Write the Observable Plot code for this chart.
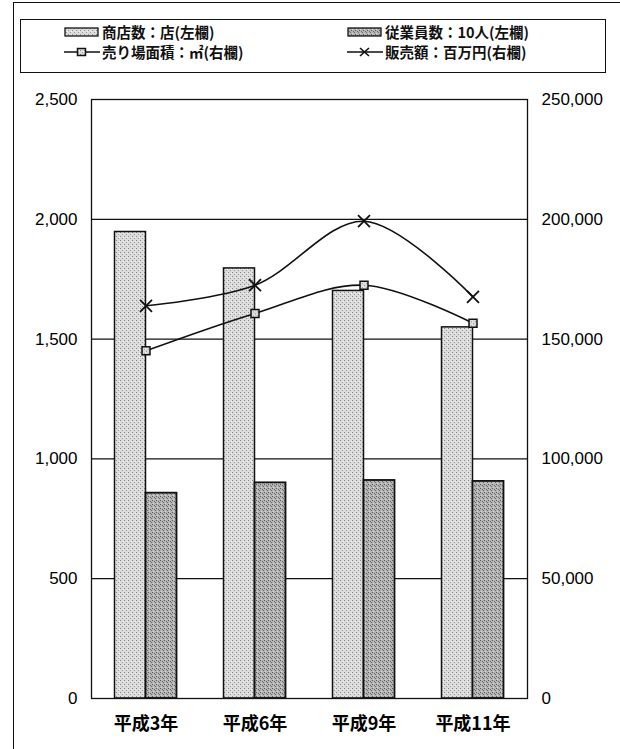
<!DOCTYPE html>
<html>
<head>
<meta charset="utf-8">
<script src="https://cdn.jsdelivr.net/npm/d3@7"></script>
<script src="https://cdn.jsdelivr.net/npm/@observablehq/plot@0.6"></script>
<style>
  html, body { margin: 0; padding: 0; background: #fff; }
  #wrap { position: relative; width: 620px; height: 749px; overflow: hidden; font-family: "Noto Sans CJK JP", sans-serif; }
  #outer { position: absolute; left: 13px; top: 2px; width: 640px; height: 760px; border-left: 1.5px solid #111; border-top: 1.5px solid #111; box-sizing: border-box; }
  #legend { position: absolute; left: 20px; top: 19px; width: 586px; height: 54px; border: 1.3px solid #111; box-sizing: border-box; }
  .item { position: absolute; display: flex; align-items: center; font-size: 14.5px; font-weight: bold; color: #111; white-space: nowrap; }
  #chart { position: absolute; left: 0; top: 80px; }
</style>
</head>
<body>
<svg width="0" height="0" style="position:absolute">
  <defs>
    <pattern id="pLight" width="4" height="4" patternUnits="userSpaceOnUse">
      <rect width="4" height="4" fill="#dcdcdc"/>
      <rect x="0" y="0" width="1" height="1" fill="#8a8a8a"/>
      <rect x="2" y="2" width="1" height="1" fill="#9a9a9a"/>
      <rect x="3" y="1" width="1" height="1" fill="#f4f4f4"/>
    </pattern>
    <pattern id="pDark" width="4" height="4" patternUnits="userSpaceOnUse">
      <rect width="4" height="4" fill="#b4b4b4"/>
      <rect x="0" y="0" width="1" height="1" fill="#5a5a5a"/>
      <rect x="2" y="1" width="1" height="1" fill="#6a6a6a"/>
      <rect x="1" y="3" width="1" height="1" fill="#d6d6d6"/>
      <rect x="3" y="2" width="1" height="1" fill="#707070"/>
    </pattern>
  </defs>
</svg>
<div id="wrap">
  <div id="outer"></div>
  <div id="legend"></div>
  <div id="chart"></div>
</div>
<script>
// ---- data ----
const years = ["平成3年", "平成6年", "平成9年", "平成11年"];
const shops = [1947, 1795, 1701, 1549];             // 商店数:店(左欄)
const employees = [857, 900, 910, 906];             // 従業員数:10人(左欄)
const floorArea = [145100, 160700, 172500, 156600]; // 売り場面積:㎡(右欄)
const sales = [163900, 172500, 199200, 167600];     // 販売額:百万円(右欄)
const leftTicks = [0, 500, 1000, 1500, 2000, 2500];
const seriesNames = ["商店数：店(左欄)", "従業員数：10人(左欄)", "売り場面積：㎡(右欄)", "販売額：百万円(右欄)"];

const ratio = 100; // right axis value / left axis value
const lightFill = "url(#pLight)";
const darkFill = "url(#pDark)";

const rows = years.map((y, i) => ({
  year: y, shops: shops[i], employees: employees[i], floor: floorArea[i], sales: sales[i]
}));

const W = 620, H = 669;
const mL = 91, mR = 93, mT = 19, mB = 51;
const bw = (W - mL - mR) / years.length;
const barW = 31;

const chart = Plot.plot({
  width: W, height: H,
  marginLeft: mL, marginRight: mR, marginTop: mT, marginBottom: mB,
  style: { fontFamily: "'Liberation Sans', Arial, sans-serif", fontSize: "17px", color: "#000", background: "transparent" },
  x: { domain: years, padding: 0 },
  y: { domain: [0, 2500] },
  marks: [
    Plot.gridY([500, 1000, 1500, 2000], { stroke: "#111", strokeOpacity: 1, strokeWidth: 1.2 }),
    Plot.barY(rows, { x: "year", y: "shops", fill: lightFill, stroke: "#111", strokeWidth: 1.5,
      insetLeft: bw / 2 - barW, insetRight: bw / 2 }),
    Plot.barY(rows, { x: "year", y: "employees", fill: darkFill, stroke: "#111", strokeWidth: 1.8,
      insetLeft: bw / 2, insetRight: bw / 2 - barW }),
    Plot.line(rows, { x: "year", y: d => d.floor / ratio, curve: "catmull-rom", stroke: "#111", strokeWidth: 1.6 }),
    Plot.line(rows, { x: "year", y: d => d.sales / ratio, curve: "catmull-rom", stroke: "#111", strokeWidth: 1.6 }),
    Plot.dot(rows, { x: "year", y: d => d.floor / ratio, symbol: "square", r: 4.5, fill: lightFill, stroke: "#111", strokeWidth: 1.5 }),
    Plot.dot(rows, { x: "year", y: d => d.sales / ratio, symbol: "times", r: 5.5, stroke: "#111", strokeWidth: 1.8 }),
    Plot.frame({ stroke: "#111", strokeWidth: 1.3 }),
    Plot.axisY({ anchor: "left", ticks: leftTicks, tickFormat: d3.format(","), tickSize: 0, tickPadding: 14, label: null, fontSize: 17 }),
    Plot.axisY({ anchor: "right", ticks: leftTicks, tickFormat: d => d3.format(",")(d * ratio), tickSize: 0, tickPadding: 14, label: null, fontSize: 17 }),
    Plot.axisX({ tickSize: 0, tickPadding: 19, label: null, fontSize: 18,
      fontFamily: "'Noto Sans CJK JP', sans-serif", fontWeight: "bold" })
  ]
});
document.getElementById("chart").appendChild(chart);

// ---- legend ----
const legend = document.getElementById("legend");
function addItem(left, top, swatchHTML, text) {
  const d = document.createElement("div");
  d.className = "item";
  d.style.left = left + "px";
  d.style.top = top + "px";
  d.innerHTML = swatchHTML + "<span>" + text + "</span>";
  legend.appendChild(d);
}
const box = fill => '<svg width="36" height="12" style="margin-right:2px"><rect x="1" y="2" width="33" height="8" fill="' + fill + '" stroke="#111" stroke-width="1.3"/></svg>';
const lineSquare = '<svg width="36" height="12" style="margin-right:2px"><line x1="0" y1="6" x2="36" y2="6" stroke="#111" stroke-width="1.6"/><rect x="13.5" y="2.5" width="8" height="7" fill="url(#pLight)" stroke="#111" stroke-width="1.5"/></svg>';
const lineX = '<svg width="36" height="12" style="margin-right:2px"><line x1="0" y1="6" x2="36" y2="6" stroke="#111" stroke-width="1.6"/><path d="M13,2 L22,10 M22,2 L13,10" stroke="#111" stroke-width="1.6"/></svg>';
addItem(43, 1, box(lightFill), seriesNames[0]);
addItem(326, 1, box(darkFill), seriesNames[1]);
addItem(43, 21, lineSquare, seriesNames[2]);
addItem(326, 21, lineX, seriesNames[3]);
</script>
</body>
</html>
